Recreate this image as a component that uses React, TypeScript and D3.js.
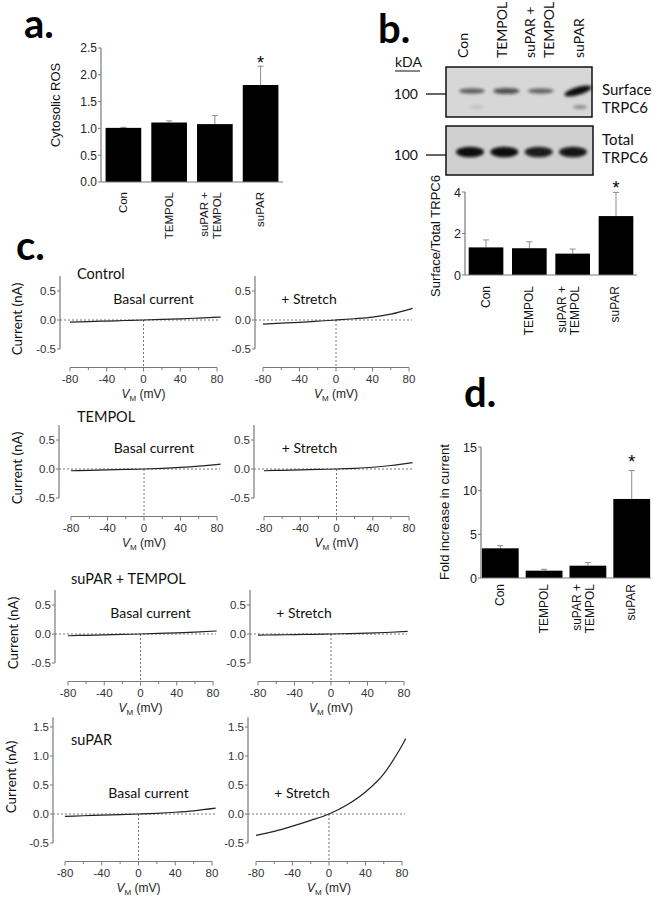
import React from "react";
import * as d3 from "d3";

const SANS = "'Liberation Sans', Arial, sans-serif";
const CAL = "Lato, 'Open Sans', sans-serif";
const AXIS = "#7a7a7a";
const ERR = "#8c8c8c";

// groups shared by the three bar charts
const groups = ["Con", "TEMPOL", "suPAR + TEMPOL", "suPAR"];
const sigGroups = ["suPAR"];

// a. cytosolic ROS
const rosMean = [1.01, 1.11, 1.08, 1.81];
const rosErr = [0.01, 0.03, 0.16, 0.35];
const rosTicks = [0, 0.5, 1.0, 1.5, 2.0, 2.5];

// b. surface / total TRPC6
const ratioMean = [1.33, 1.29, 1.03, 2.84];
const ratioErr = [0.36, 0.31, 0.22, 1.14];
const ratioTicks = [0, 2, 4];

// b. blot band intensities (0..1)
const surfaceBand = [0.45, 0.55, 0.4, 1.0];
const surfaceLowBand = [0.12, 0, 0, 0.45];
const totalBand = [1, 1, 0.92, 0.95];

// d. fold increase in current
const foldMean = [3.4, 0.84, 1.41, 9.05];
const foldErr = [0.3, 0.16, 0.35, 3.25];
const foldTicks = [0, 5, 10, 15];

// c. I-V curves (mV -> nA)
const ivVolts = [-80, -60, -40, -20, 0, 20, 40, 60, 84];
const controlBasal = [-0.035, -0.027, -0.018, -0.009, 0, 0.01, 0.021, 0.034, 0.05];
const controlStretch = [-0.07, -0.055, -0.04, -0.02, 0, 0.022, 0.05, 0.1, 0.2];
const tempolBasal = [-0.03, -0.022, -0.015, -0.007, 0, 0.012, 0.028, 0.05, 0.085];
const tempolStretch = [-0.03, -0.022, -0.015, -0.007, 0, 0.012, 0.03, 0.06, 0.11];
const suparTempolBasal = [-0.03, -0.022, -0.015, -0.007, 0, 0.01, 0.02, 0.033, 0.052];
const suparTempolStretch = [-0.02, -0.015, -0.01, -0.005, 0, 0.007, 0.015, 0.026, 0.045];
const suparBasal = [-0.04, -0.03, -0.02, -0.01, 0, 0.012, 0.03, 0.055, 0.1];
const suparStretchVolts = [-80, -60, -40, -20, 0, 20, 40, 60, 70, 80, 84];
const suparStretch = [-0.37, -0.3, -0.21, -0.11, 0, 0.16, 0.38, 0.69, 0.92, 1.18, 1.3];

const vMajor = [-80, -40, 0, 40, 80];
const vMinor = [-60, -20, 20, 60];
const smallTicks = [-0.5, 0, 0.5];
const bigTicks = [-0.5, 0, 0.5, 1.0, 1.5];

function labelLines(g: string) {
    return g.includes("+") ? g.split(/(?<=\+) /) : [g];
}

interface IBarProps {
    means: number[];
    errs: number[];
    ticks: number[];
    yMax: number;
    y0: number;
    y1: number;
    x0: number;
    x1: number;
    pIn: number;
    pOut: number;
    title: string;
    titleX: number;
    titleY: number;
    labelTop: number;
    fs: number;
    starGap: number;
    fmt: (v: number) => string;
}

function BarChart(p: IBarProps) {
    const x = d3.scaleBand<string>().domain(groups).range([p.x0, p.x1])
        .paddingInner(p.pIn).paddingOuter(p.pOut);
    const y = d3.scaleLinear().domain([0, p.yMax]).range([p.y0, p.y1]);
    const bw = x.bandwidth();

    return <g fontFamily={SANS}>
        {groups.map((g, i) => {
            const cx = x(g)! + bw / 2;
            const top = y(p.means[i] + p.errs[i]);
            return <g key={g}>
                <line x1={cx} x2={cx} y1={y(p.means[i])} y2={top} stroke={ERR} strokeWidth={1} />
                <line x1={cx - 3} x2={cx + 3} y1={top} y2={top} stroke={ERR} strokeWidth={1} />
                <rect x={x(g)} y={y(p.means[i])} width={bw} height={y(0) - y(p.means[i])} fill="#000" />
                {sigGroups.includes(g) &&
                    <text x={cx} y={top - p.starGap + 11} textAnchor="middle" fontSize={18}>*</text>}
            </g>;
        })}
        <line x1={p.x0} x2={p.x0} y1={y(0)} y2={y(p.yMax)} stroke={AXIS} strokeWidth={1.2} />
        <line x1={p.x0} x2={p.x1} y1={y(0)} y2={y(0)} stroke={AXIS} strokeWidth={1.2} />
        {p.ticks.map(t => <g key={t}>
            <line x1={p.x0 - 3} x2={p.x0} y1={y(t)} y2={y(t)} stroke={AXIS} />
            <text x={p.x0 - 4} y={y(t)} dy="0.36em" textAnchor="end" fontSize={p.fs + 0.5} fill="#222">{p.fmt(t)}</text>
        </g>)}
        {groups.map(g => {
            const cx = x(g)! + bw / 2;
            const lines = labelLines(g);
            const offs = lines.length === 1 ? [3.5] : [-7, 6.5];
            return lines.map((l, j) =>
                <text key={g + j} transform={`translate(${cx + offs[j]},${p.labelTop}) rotate(-90)`}
                    textAnchor="end" fontSize={p.fs} fill="#111">{l}</text>);
        })}
        <text transform={`translate(${p.titleX},${p.titleY}) rotate(-90)`} textAnchor="middle" fontSize={13} fill="#111">{p.title}</text>
    </g>;
}

interface IIVProps {
    axisX: number;
    xr: [number, number];
    zero: number;
    yTop: number;
    yTicks: number[];
    volts: number[];
    amps: number[];
    label: string;
    labelDx: number;
}

function IVPlot(p: IIVProps) {
    const x = d3.scaleLinear().domain([-80, 80]).range(p.xr);
    const y = d3.scaleLinear().domain([0, 1]).range([p.zero, p.zero - 58]);
    const axisY = p.zero + 47.5;
    const line = d3.line<number>()
        .x((d, i) => x(p.volts[i]))
        .y(d => y(d))
        .curve(d3.curveMonotoneX);

    return <g>
        {/* dashed zero lines */}
        <line x1={p.axisX} x2={x(80) + 3} y1={y(0)} y2={y(0)} stroke="#777" strokeDasharray="2,2" />
        <line x1={x(0)} x2={x(0)} y1={y(0)} y2={axisY} stroke="#777" strokeDasharray="2,2" />
        <path d={line(p.amps)!} fill="none" stroke="#222" strokeWidth={1.2} />

        <line x1={p.axisX} x2={p.axisX} y1={y(p.yTop)} y2={y(-0.5)} stroke={AXIS} strokeWidth={1.2} />
        {p.yTicks.map(t => <g key={t}>
            <line x1={p.axisX - 3} x2={p.axisX} y1={y(t)} y2={y(t)} stroke={AXIS} />
            <text x={p.axisX - 4} y={y(t)} dy="0.36em" textAnchor="end" fontFamily={SANS} fontSize={11.5} fill="#333">{t.toFixed(1)}</text>
        </g>)}

        <line x1={x(-80)} x2={x(80)} y1={axisY} y2={axisY} stroke={AXIS} strokeWidth={1.2} />
        {vMajor.map(v => <g key={v}>
            <line x1={x(v)} x2={x(v)} y1={axisY} y2={axisY + 4} stroke={AXIS} />
            <text x={x(v)} y={axisY + 15} textAnchor="middle" fontFamily={SANS} fontSize={11.5} fill="#333">{v}</text>
        </g>)}
        {vMinor.map(v => <line key={v} x1={x(v)} x2={x(v)} y1={axisY} y2={axisY + 2.5} stroke={AXIS} />)}
        <text x={x(0)} y={axisY + 30} textAnchor="middle" fontFamily={SANS} fontSize={12} fill="#222">
            <tspan fontStyle="italic">V</tspan>
            <tspan dy={3} fontSize={8}>M</tspan>
            <tspan dy={-3}> (mV)</tspan>
        </text>

        <text x={x(0) + p.labelDx} y={y(0) - 16} textAnchor="middle" fontFamily={CAL} fontSize={14} fill="#111">{p.label}</text>
    </g>;
}

const ivRows = [
    { title: "Control", titleX: 77, titleY: 279, zero: 320, yTop: 0.76, ticks: smallTicks, ylabX: 22,
      left: { axisX: 60, xr: [70, 217] as [number, number] }, right: { axisX: 255, xr: [263, 409] as [number, number] },
      basal: controlBasal, stretch: controlStretch, stretchVolts: ivVolts },
    { title: "TEMPOL", titleX: 77, titleY: 422, zero: 469, yTop: 0.76, ticks: smallTicks, ylabX: 22,
      left: { axisX: 59, xr: [71, 217] as [number, number] }, right: { axisX: 254, xr: [264, 409] as [number, number] },
      basal: tempolBasal, stretch: tempolStretch, stretchVolts: ivVolts },
    { title: "suPAR + TEMPOL", titleX: 71, titleY: 584, zero: 634, yTop: 0.76, ticks: smallTicks, ylabX: 18,
      left: { axisX: 55, xr: [68, 213] as [number, number] }, right: { axisX: 250, xr: [258, 404] as [number, number] },
      basal: suparTempolBasal, stretch: suparTempolStretch, stretchVolts: ivVolts },
    { title: "suPAR", titleX: 71, titleY: 745, zero: 814, yTop: 1.67, ticks: bigTicks, ylabX: 16,
      left: { axisX: 53, xr: [65, 212] as [number, number] }, right: { axisX: 248, xr: [256, 402] as [number, number] },
      basal: suparBasal, stretch: suparStretch, stretchVolts: suparStretchVolts },
];

function Blot() {
    const lane = d3.scalePoint<string>().domain(groups).range([470, 573]);
    const laneLabel = d3.scalePoint<string>().domain(groups).range([463, 579]);
    return <g>
        <defs>
            <filter id="bandBlur" x="-50%" y="-100%" width="200%" height="300%">
                <feGaussianBlur stdDeviation="1.6" />
            </filter>
        </defs>
        {groups.map(g => {
            const lines = labelLines(g);
            const offs = lines.length === 1 ? [5] : [-5, 14];
            return lines.map((l, j) =>
                <text key={g + j} transform={`translate(${laneLabel(g)! + offs[j]},58) rotate(-90)`}
                    fontFamily={CAL} fontSize={14} fill="#111">{l}</text>);
        })}
        <text x={395} y={67} fontFamily={CAL} fontSize={14} fill="#111">kDA</text>
        <line x1={395} x2={420} y1={71} y2={71} stroke="#111" strokeWidth={1} />

        <rect x={446} y={67} width={146} height={50} fill="#d7d7d7" stroke="#111" strokeWidth={1.5} />
        {groups.map((g, i) => {
            const v = surfaceBand[i];
            const cx = lane(g)! + (v > 0.9 ? 5 : 2);
            return <ellipse key={g} cx={cx} cy={91} rx={12 + 2 * v} ry={1.8 + 2.2 * v} fill="#111"
                opacity={0.25 + 0.75 * v} filter="url(#bandBlur)"
                transform={v > 0.9 ? `rotate(-16,${cx},91)` : undefined} />;
        })}
        {groups.map((g, i) => surfaceLowBand[i] > 0 &&
            <ellipse key={g} cx={lane(g)! + 7} cy={107} rx={7} ry={1.8} fill="#222"
                opacity={surfaceLowBand[i]} filter="url(#bandBlur)" />)}

        <rect x={446} y={126} width={147} height={49} fill="#d0d0d0" stroke="#111" strokeWidth={1.5} />
        {groups.map((g, i) => <ellipse key={g} cx={lane(g)!} cy={152} rx={14} ry={5.2} fill="#080808"
            opacity={totalBand[i]} filter="url(#bandBlur)" />)}

        <text x={418} y={99} textAnchor="end" fontFamily={CAL} fontSize={14} fill="#111">100</text>
        <line x1={426} x2={446} y1={94} y2={94} stroke="#111" strokeWidth={1.3} />
        <text x={418} y={160} textAnchor="end" fontFamily={CAL} fontSize={14} fill="#111">100</text>
        <line x1={426} x2={446} y1={155} y2={155} stroke="#111" strokeWidth={1.3} />

        <g fontFamily={CAL} fontSize={15} fill="#111">
            <text x={602} y={95}>Surface</text>
            <text x={602} y={113}>TRPC6</text>
            <text x={602} y={145}>Total</text>
            <text x={602} y={163}>TRPC6</text>
        </g>
    </g>;
}

export default function App() {
    return <svg width={654} height={900} style={{ position: "absolute", left: 0, top: 0, background: "#fff" }}>
        <g fontFamily={CAL} fontWeight={700} fontSize={40} fill="#000">
            <text x={24} y={38}>a.</text>
            <text x={378} y={43}>b.</text>
            <text x={16} y={260}>c.</text>
            <text x={464} y={407}>d.</text>
        </g>

        <BarChart means={rosMean} errs={rosErr} ticks={rosTicks} yMax={2.5} y0={182} y1={48}
            x0={101} x1={283} pIn={0.22} pOut={0.1} title="Cytosolic ROS" titleX={60} titleY={105}
            labelTop={192} fs={11.5} starGap={8} fmt={v => v.toFixed(1)} />

        <Blot />

        <BarChart means={ratioMean} errs={ratioErr} ticks={ratioTicks} yMax={4} y0={275} y1={192}
            x0={465} x1={637} pIn={0.2} pOut={0.085} title="Surface/Total TRPC6" titleX={440} titleY={236}
            labelTop={286} fs={12} starGap={9} fmt={v => String(v)} />

        <BarChart means={foldMean} errs={foldErr} ticks={foldTicks} yMax={15} y0={578} y1={447}
            x0={481} x1={651} pIn={0.16} pOut={0.02} title="Fold increase in current" titleX={449} titleY={512}
            labelTop={584} fs={12} starGap={14} fmt={v => String(v)} />

        {ivRows.map(r => <g key={r.title}>
            <text x={r.titleX} y={r.titleY} fontFamily={CAL} fontSize={14.5} fill="#111">{r.title}</text>
            <text transform={`translate(${r.ylabX},${r.zero - (r.yTop > 1 ? 37 : 1)}) rotate(-90)`} textAnchor="middle"
                fontFamily={CAL} fontSize={13.5} fill="#111">Current (nA)</text>
            <IVPlot axisX={r.left.axisX} xr={r.left.xr} zero={r.zero} yTop={r.yTop} yTicks={r.ticks}
                volts={ivVolts} amps={r.basal} label="Basal current" labelDx={10} />
            <IVPlot axisX={r.right.axisX} xr={r.right.xr} zero={r.zero} yTop={r.yTop} yTicks={r.ticks}
                volts={r.stretchVolts} amps={r.stretch} label="+ Stretch" labelDx={-27} />
        </g>)}
    </svg>;
}
